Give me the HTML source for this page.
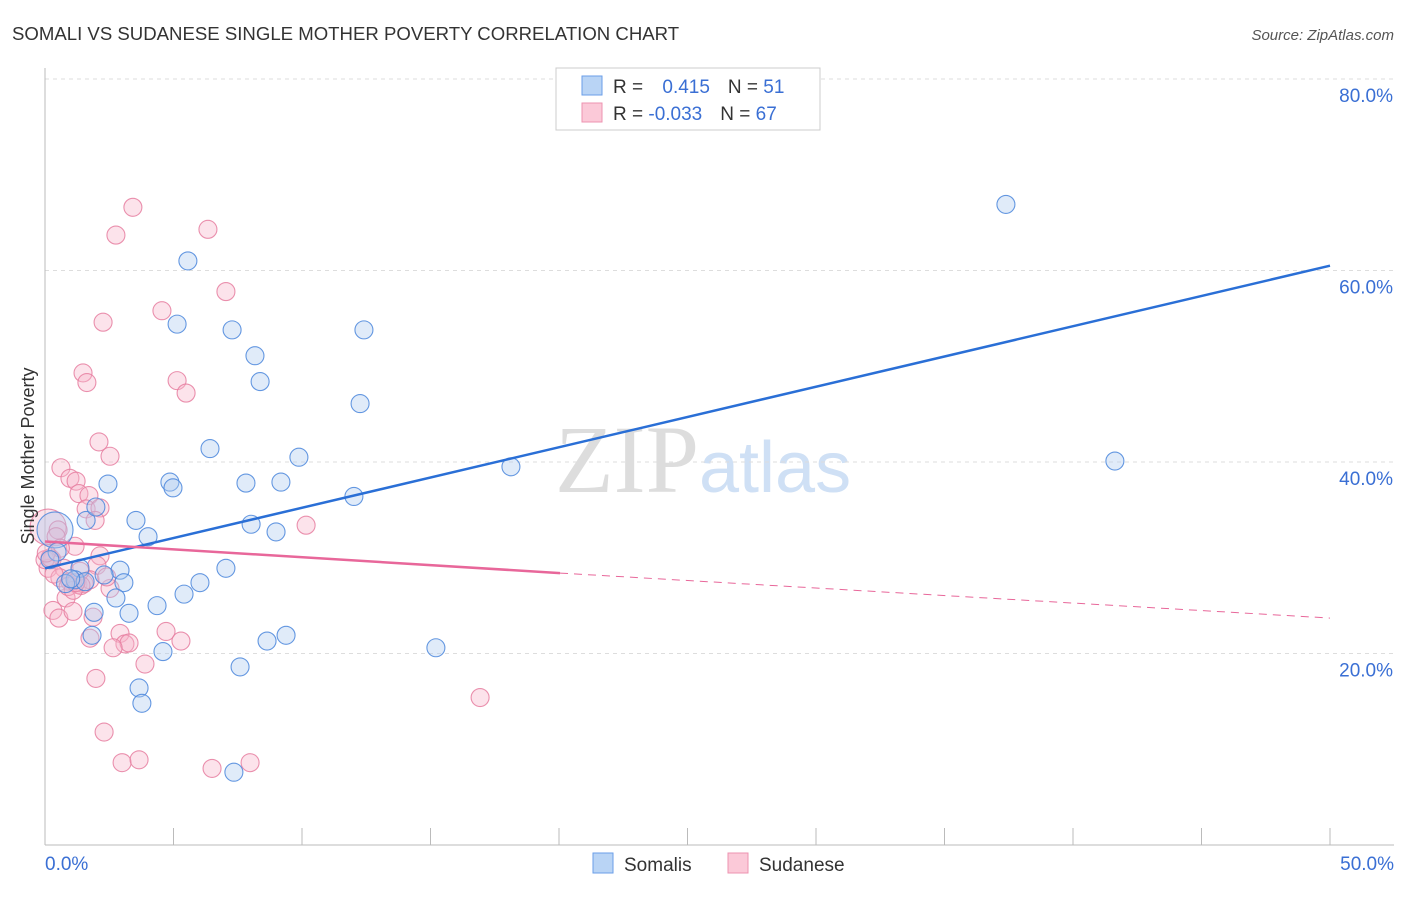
<!DOCTYPE html>
<html><head><meta charset="utf-8"><style>
body{margin:0;background:#fff;font-family:"Liberation Sans",sans-serif}
</style></head><body>
<svg width="1406" height="892" xmlns="http://www.w3.org/2000/svg" font-family="Liberation Sans, sans-serif">
<text x="12" y="40" font-size="18.6" fill="#333">SOMALI VS SUDANESE SINGLE MOTHER POVERTY CORRELATION CHART</text>
<text x="1394" y="40" font-size="15" fill="#555" text-anchor="end" font-style="italic">Source: ZipAtlas.com</text>
<text x="555" y="492" font-size="96" fill="#ddd" font-family="Liberation Serif, serif">ZIP<tspan fill="#cfe0f5" font-family="Liberation Sans, sans-serif" font-size="72">atlas</tspan></text>
<g id="grid"></g>
<g id="axes"></g>
<g id="pts"></g>
<g id="lines"></g>
<text transform="translate(34,456) rotate(-90)" font-size="18" fill="#333" text-anchor="middle">Single Mother Poverty</text>
<g>
<rect x="556" y="68" width="264" height="62" fill="#fff" stroke="#ccc"/>
<rect x="582" y="76" width="20" height="19" fill="#b9d4f5" stroke="#6a9ee8"/>
<rect x="582" y="103" width="20" height="19" fill="#fbc9d8" stroke="#ee93b0"/>
<text x="613" y="93" font-size="19" fill="#333">R = <tspan fill="#3a6fd4" dx="14">0.415</tspan><tspan dx="18" fill="#333">N = </tspan><tspan fill="#3a6fd4">51</tspan></text>
<text x="613" y="120" font-size="19" fill="#333">R = <tspan fill="#3a6fd4">-0.033</tspan><tspan dx="18" fill="#333">N = </tspan><tspan fill="#3a6fd4">67</tspan></text>
</g>
<g>
<rect x="593" y="853" width="20" height="20" fill="#b9d4f5" stroke="#6a9ee8"/>
<text x="624" y="871" font-size="19" fill="#333">Somalis</text>
<rect x="728" y="853" width="20" height="20" fill="#fbc9d8" stroke="#ee93b0"/>
<text x="759" y="871" font-size="19" fill="#333">Sudanese</text>
</g>
</svg>
<script>
const yTicks=[20,40,60,80];
const xTickLabels=["0.0%","50.0%"];
const somaliX=[5.56,5.14,7.28,12.41,8.17,8.37,12.26,6.42,9.88,18.13,37.39,41.63,2.45,4.86,4.98,7.82,9.18,12.02,3.54,1.6,1.98,4.01,8.02,8.99,0.39,0.47,2.92,1.36,2.3,3.07,7.04,6.03,5.41,2.76,1.91,3.27,4.36,1.83,4.59,8.64,9.38,15.21,7.59,3.66,3.77,7.35,1.17,1.56,0.19,0.8,1.0];
const somaliY=[61.0,54.4,53.8,53.8,51.1,48.4,46.1,41.4,40.5,39.5,66.9,40.1,37.7,37.9,37.3,37.8,37.9,36.4,33.9,33.9,35.3,32.2,33.5,32.7,32.9,30.6,28.7,28.9,28.2,27.4,28.9,27.4,26.2,25.8,24.3,24.2,25.0,21.9,20.2,21.3,21.9,20.6,18.6,16.4,14.8,7.6,27.7,27.5,29.8,27.3,27.8];
const sudanX=[3.42,2.76,6.34,7.04,4.55,2.26,1.48,1.63,5.14,5.49,2.1,2.53,0.62,0.97,1.21,1.32,1.71,1.6,2.14,1.95,10.16,0.12,0.51,0.43,1.17,2.14,0.27,0.12,0.74,2.02,0.58,0.97,1.28,1.52,1.75,2.53,0.82,0.31,0.54,1.09,1.87,2.92,3.11,3.27,2.65,4.71,5.29,3.89,1.75,1.98,16.93,2.3,3.0,3.66,6.5,7.98,0.0,1.36,0.9,1.4,0.2,0.6,1.1,2.4,0.35,1.2,0.05];
const sudanY=[66.6,63.7,64.3,57.8,55.8,54.6,49.3,48.3,48.5,47.2,42.1,40.6,39.4,38.3,38.0,36.7,36.5,35.1,35.2,33.9,33.4,33.2,32.9,32.2,31.2,30.2,29.8,28.9,28.9,29.2,27.9,27.5,27.2,27.3,27.7,26.8,25.8,24.5,23.7,24.4,23.8,22.1,21.0,21.1,20.6,22.3,21.3,18.9,21.6,17.4,15.4,11.8,8.6,8.9,8.0,8.6,29.8,28.6,27.0,27.1,30.0,31.0,26.6,28.0,28.3,27.4,30.5];
const somaliBigIdx=24, sudanBigIdx=21;
const blueLine=[[0,28.9],[50,60.5]];
const pinkLine=[[0,31.7],[20.04,28.4],[50,23.7]];
const X=v=>45+v/50*1285, Y=v=>845-v/20*191.5;
const NS="http://www.w3.org/2000/svg";
function mk(t,a,p){const e=document.createElementNS(NS,t);for(const k in a)e.setAttribute(k,a[k]);p.appendChild(e);return e;}
const grid=document.getElementById('grid'),axes=document.getElementById('axes'),pts=document.getElementById('pts'),lines=document.getElementById('lines');
yTicks.forEach(t=>{const l=mk('line',{x1:45,x2:1394,y1:Y(t),y2:Y(t),stroke:'#ddd','stroke-dasharray':'4,4'},grid);


const tx=mk('text',{x:1393,y:Y(t)+23,'font-size':19,fill:'#3a6fd4','text-anchor':'end'},axes);tx.textContent=t.toFixed(1)+'%';

});
const al=mk('line',{x1:45,x2:45,y1:68,y2:845,stroke:'#bbb'},axes);


const bl=mk('line',{x1:45,x2:1394,y1:845,y2:845,stroke:'#bbb'},axes);


for(let i=0;i<=10;i++){const t=mk('line',{x1:X(i*5),x2:X(i*5),y1:828,y2:845,stroke:'#bbb'},axes);

}
[[0,'start',45],[1,'end',1394]].forEach(([i,a,x])=>{const t=mk('text',{x:x,y:870,'font-size':19,fill:'#3a6fd4','text-anchor':a},axes);t.textContent=xTickLabels[i];

});
function dots(xs,ys,big,fill,stroke,name){xs.forEach((v,i)=>{const c=mk('circle',{cx:X(v),cy:Y(ys[i]),r:i===big?18:9,fill:fill,'fill-opacity':0.38,stroke:stroke,'stroke-opacity':0.85,'stroke-width':1.1},pts);

});}
dots(sudanX,sudanY,sudanBigIdx,'#f7b6ca','#e67ea0','sudanese-point');
dots(somaliX,somaliY,somaliBigIdx,'#aecbf0','#4a86dc','somali-point');
const b=mk('line',{x1:X(blueLine[0][0]),y1:Y(blueLine[0][1]),x2:X(blueLine[1][0]),y2:Y(blueLine[1][1]),stroke:'#2a6fd6','stroke-width':2.5},lines);


const p1=mk('line',{x1:X(pinkLine[0][0]),y1:Y(pinkLine[0][1]),x2:X(pinkLine[1][0]),y2:Y(pinkLine[1][1]),stroke:'#e8679a','stroke-width':2.5},lines);


const p2=mk('line',{x1:X(pinkLine[1][0]),y1:Y(pinkLine[1][1]),x2:X(pinkLine[2][0]),y2:Y(pinkLine[2][1]),stroke:'#e8679a','stroke-width':1,'stroke-dasharray':'8,6'},lines);


</script>
</body></html>
